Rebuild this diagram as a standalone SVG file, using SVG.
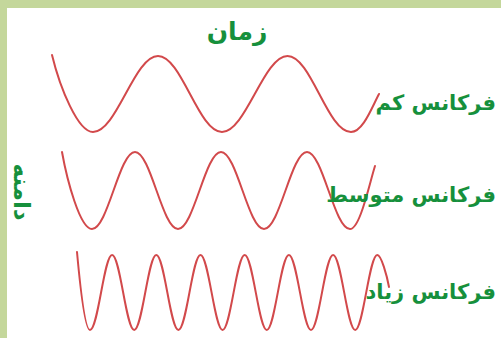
<svg xmlns="http://www.w3.org/2000/svg" width="501" height="338" viewBox="0 0 501 338">
<style>
.wave{fill:none;stroke:#d2494b;stroke-width:2;stroke-linecap:round;stroke-linejoin:round}
.lbl{font-family:"DejaVu Sans","Noto Sans",sans-serif;font-weight:bold;fill:#16903c}
</style>
<rect x="0" y="0" width="501" height="338" fill="#ffffff"/>
<rect x="0" y="0" width="501" height="8" fill="#c4d79b"/>
<rect x="0" y="0" width="7" height="338" fill="#c4d79b"/>
<g id="waves">
<path id="wave-low" class="wave" d="M52,55 C60,88 78,132 93,132 C116.7,132 134.3,56 158,56 S198.3,132 222,132 S263.8,56 287.5,56 S327.3,132 351,132 C363,132 372,107 379,94"/>
<path id="wave-mid" class="wave" d="M62,152 C67,180 80,229 92,229 C107.7,229 119.3,152 135,152 S162.3,229 178,229 S205.3,152 221,152 S248.3,229 264,229 S291.3,152 307,152 S334.3,229 350,229 C360,229 369,185 375,166"/>
<path id="wave-high" class="wave" d="M77,252 C80,285 85,330 90,330 C98.1,330 104,255 112.1,255 S126.1,330 134.2,330 S148.2,255 156.3,255 S170.3,330 178.4,330 S192.4,255 200.5,255 S214.6,330 222.6,330 S236.6,255 244.7,255 S258.8,330 266.8,330 S280.8,255 288.9,255 S303,330 311,330 S325,255 333.1,255 S347.2,330 355.2,330 S369.2,255 377.3,255 C381.3,255 387,276 389,287"/>
</g>
<g id="title"><text class="lbl" x="237" y="40" font-size="25" text-anchor="middle" direction="rtl">زمان</text></g>
<g id="label-low"><text class="lbl" x="496" y="110" font-size="21" text-anchor="start" direction="rtl">فرکانس کم</text></g>
<g id="label-mid"><text class="lbl" x="496" y="202" font-size="21" text-anchor="start" direction="rtl">فرکانس متوسط</text></g>
<g id="label-high"><text class="lbl" x="496" y="299" font-size="21" text-anchor="start" direction="rtl">فرکانس زیاد</text></g>
<g id="axis-label"><text class="lbl" x="0" y="0" font-size="23" text-anchor="middle" direction="rtl" transform="translate(14,192) rotate(90)">دامنه</text></g>
</svg>
